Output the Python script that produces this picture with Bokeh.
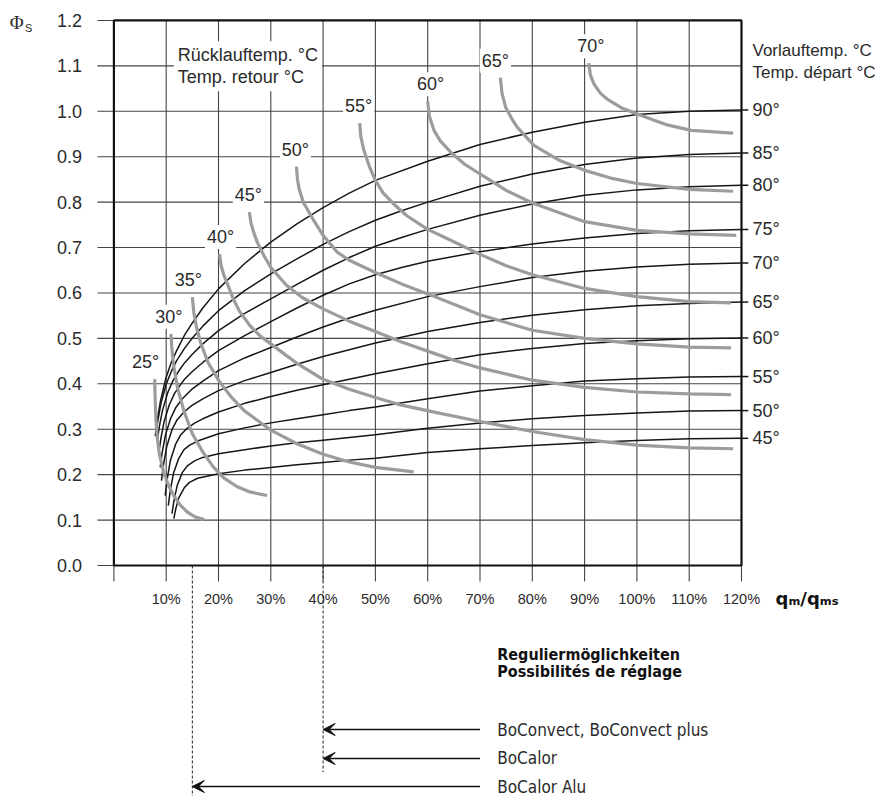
from bokeh.plotting import figure
from bokeh.models import Range1d, ColumnDataSource, Arrow, VeeHead
from bokeh.core.properties import value
from bokeh.embed import file_html
from bokeh.resources import INLINE

# ---------------- data ----------------
x_ticks = [0, 10, 20, 30, 40, 50, 60, 70, 80, 90, 100, 110, 120]
y_ticks = [0.0, 0.1, 0.2, 0.3, 0.4, 0.5, 0.6, 0.7, 0.8, 0.9, 1.0, 1.1, 1.2]
x_tick_labels = ["", "10%", "20%", "30%", "40%", "50%", "60%", "70%", "80%", "90%", "100%", "110%", "120%"]
y_tick_labels = ["0.0", "0.1", "0.2", "0.3", "0.4", "0.5", "0.6", "0.7", "0.8", "0.9", "1.0", "1.1", "1.2"]

# Vorlauftemperatur / Temp. depart (black curves)
vl_labels = ["45°", "50°", "55°", "60°", "65°", "70°", "75°", "80°", "85°", "90°"]
vl45_x = [11.45, 11.85, 12.45, 13.45, 14.45, 16, 20, 25, 30, 35, 40, 45, 50, 60, 70, 80, 90, 100, 110, 120]
vl45_y = [0.103, 0.126, 0.150, 0.171, 0.183, 0.192, 0.202, 0.210, 0.216, 0.222, 0.227, 0.232, 0.236, 0.249, 0.257, 0.264, 0.270, 0.275, 0.279, 0.280]
vl50_x = [11.1, 11.5, 12.1, 13.1, 14.1, 15.5, 17, 20, 25, 30, 35, 40, 45, 50, 60, 70, 80, 90, 100, 110, 120]
vl50_y = [0.114, 0.144, 0.176, 0.205, 0.220, 0.231, 0.238, 0.246, 0.255, 0.263, 0.270, 0.276, 0.282, 0.288, 0.302, 0.314, 0.323, 0.330, 0.336, 0.340, 0.341]
vl55_x = [10.4, 10.8, 11.4, 12.4, 13.4, 14.5, 16, 20, 25, 30, 35, 40, 45, 50, 60, 70, 80, 90, 100, 110, 120]
vl55_y = [0.132, 0.167, 0.203, 0.236, 0.255, 0.265, 0.274, 0.290, 0.303, 0.314, 0.323, 0.332, 0.341, 0.349, 0.367, 0.384, 0.396, 0.406, 0.411, 0.415, 0.416]
vl60_x = [9.8, 10.2, 10.8, 11.8, 12.8, 14, 15.5, 17, 20, 25, 30, 35, 40, 45, 50, 60, 70, 80, 90, 100, 110, 120]
vl60_y = [0.154, 0.191, 0.231, 0.267, 0.288, 0.302, 0.314, 0.323, 0.338, 0.357, 0.372, 0.386, 0.398, 0.410, 0.422, 0.444, 0.464, 0.478, 0.489, 0.495, 0.499, 0.501]
vl65_x = [9.1, 9.5, 10.1, 11.1, 12.1, 13.5, 15, 17, 20, 25, 30, 35, 40, 45, 50, 60, 70, 80, 90, 100, 110, 120]
vl65_y = [0.187, 0.223, 0.262, 0.299, 0.321, 0.339, 0.353, 0.367, 0.385, 0.407, 0.425, 0.443, 0.460, 0.475, 0.490, 0.515, 0.535, 0.551, 0.563, 0.572, 0.577, 0.580]
vl70_x = [8.85, 9.25, 9.85, 10.85, 11.85, 13, 15, 17, 20, 25, 30, 35, 40, 45, 50, 60, 70, 80, 90, 100, 110, 120]
vl70_y = [0.216, 0.250, 0.287, 0.324, 0.348, 0.366, 0.389, 0.406, 0.429, 0.457, 0.480, 0.503, 0.525, 0.545, 0.562, 0.592, 0.614, 0.634, 0.648, 0.657, 0.663, 0.666]
vl75_x = [8.6, 9.0, 9.6, 10.6, 11.6, 12.6, 13.5, 15, 17, 20, 25, 30, 35, 40, 45, 50, 55, 60, 70, 80, 90, 100, 110, 120]
vl75_y = [0.249, 0.281, 0.317, 0.354, 0.379, 0.396, 0.410, 0.427, 0.447, 0.473, 0.506, 0.537, 0.567, 0.595, 0.620, 0.640, 0.656, 0.670, 0.691, 0.708, 0.721, 0.731, 0.737, 0.740]
vl80_x = [8.3, 8.7, 9.3, 10.3, 11.3, 12.5, 13.5, 15, 17, 20, 25, 30, 35, 40, 45, 50, 55, 60, 70, 80, 90, 100, 110, 120]
vl80_y = [0.275, 0.307, 0.342, 0.381, 0.407, 0.430, 0.446, 0.465, 0.488, 0.517, 0.555, 0.587, 0.619, 0.650, 0.678, 0.703, 0.722, 0.740, 0.771, 0.796, 0.815, 0.827, 0.834, 0.837]
vl85_x = [8.0, 8.4, 9.0, 10, 11, 12, 13.5, 15, 17, 20, 25, 30, 35, 40, 45, 50, 55, 60, 70, 80, 90, 100, 110, 120]
vl85_y = [0.286, 0.319, 0.357, 0.399, 0.428, 0.451, 0.478, 0.501, 0.527, 0.561, 0.605, 0.642, 0.675, 0.707, 0.735, 0.760, 0.781, 0.800, 0.835, 0.862, 0.883, 0.897, 0.905, 0.908]
vl90_x = [7.9, 8.3, 8.9, 9.9, 11, 12, 13.5, 15, 17, 20, 25, 30, 35, 40, 45, 50, 60, 70, 80, 90, 100, 110, 120]
vl90_y = [0.285, 0.321, 0.362, 0.411, 0.448, 0.473, 0.507, 0.534, 0.567, 0.609, 0.665, 0.712, 0.752, 0.788, 0.820, 0.848, 0.890, 0.927, 0.954, 0.976, 0.993, 1.000, 1.003]

# Ruecklauftemperatur / Temp. retour (grey curves)
rl_labels = ["25°", "30°", "35°", "40°", "45°", "50°", "55°", "60°", "65°", "70°"]
rl25_x = [7.8, 7.9, 8.05, 8.3, 8.7, 9.5, 10.5, 11.5, 12.7, 14, 15.5, 17.3]
rl25_y = [0.41, 0.36, 0.32, 0.28, 0.245, 0.205, 0.175, 0.153, 0.133, 0.118, 0.107, 0.101]
rl30_x = [10.9, 11.1, 11.5, 12.2, 13.4, 15, 17, 19, 21, 23.5, 26, 29.3]
rl30_y = [0.51, 0.475, 0.435, 0.39, 0.34, 0.29, 0.25, 0.217, 0.193, 0.174, 0.162, 0.154]
rl35_x = [15.0, 15.3, 15.8, 16.6, 18, 20, 22.5, 25, 30, 35, 40, 45, 50, 57.3]
rl35_y = [0.591, 0.555, 0.525, 0.49, 0.447, 0.408, 0.37, 0.34, 0.298, 0.268, 0.245, 0.228, 0.216, 0.206]
rl40_x = [20.2, 20.5, 21, 21.7, 22.9, 24, 26, 28, 30, 35, 40, 45, 50, 55, 62.4, 70, 80, 90, 100, 110, 118.4]
rl40_y = [0.686, 0.66, 0.64, 0.62, 0.585, 0.56, 0.528, 0.505, 0.488, 0.445, 0.41, 0.388, 0.37, 0.353, 0.335, 0.317, 0.295, 0.277, 0.265, 0.259, 0.257]
rl45_x = [25.9, 26.2, 26.6, 27.4, 28.7, 30, 33, 36, 40, 45, 50, 55, 60, 65, 70, 80, 90, 100, 110, 118]
rl45_y = [0.778, 0.755, 0.738, 0.712, 0.682, 0.656, 0.617, 0.59, 0.565, 0.538, 0.515, 0.492, 0.472, 0.452, 0.435, 0.408, 0.392, 0.382, 0.378, 0.376]
rl50_x = [34.9, 35.1, 35.4, 36.2, 37.2, 38.2, 40, 42.7, 45, 50, 55, 60, 65, 70, 80, 90, 100, 110, 118]
rl50_y = [0.878, 0.85, 0.83, 0.80, 0.78, 0.76, 0.727, 0.69, 0.672, 0.645, 0.62, 0.598, 0.575, 0.552, 0.518, 0.500, 0.488, 0.481, 0.479]
rl55_x = [47.0, 47.2, 47.8, 48.8, 50, 51.5, 53.5, 56, 60, 64.4, 70, 75, 80, 90, 100, 110, 118]
rl55_y = [0.974, 0.945, 0.914, 0.88, 0.848, 0.82, 0.796, 0.77, 0.74, 0.716, 0.685, 0.66, 0.64, 0.61, 0.592, 0.581, 0.578]
rl60_x = [60.0, 60.3, 61.2, 62.4, 64.4, 67, 70, 75, 80, 90, 100, 110, 119]
rl60_y = [1.022, 0.99, 0.958, 0.935, 0.91, 0.884, 0.862, 0.826, 0.798, 0.757, 0.738, 0.730, 0.727]
rl65_x = [73.9, 74.2, 74.9, 76, 77.1, 80.3, 85, 90, 95, 100, 110, 118.4]
rl65_y = [1.074, 1.04, 1.009, 0.985, 0.965, 0.925, 0.893, 0.87, 0.853, 0.841, 0.828, 0.824]
rl70_x = [90.8, 91.1, 91.8, 93, 94.3, 97, 100.3, 105.8, 110.4, 118.4]
rl70_y = [1.106, 1.08, 1.06, 1.04, 1.027, 1.008, 0.993, 0.97, 0.958, 0.952]

# Reguliermoeglichkeiten
settings_names = ["BoConvect, BoConvect plus", "BoCalor", "BoCalor Alu"]
settings_min = [40, 40, 15]

# ---------------- layout ----------------
W, H = 880, 796
PX_X, PX_Y = 5.23, 454.2          # pixels per data unit
X0_PX, Y0_PX = 113.4, 565.0       # canvas pixel of data origin
x_range = Range1d(-X0_PX / PX_X, (W - X0_PX) / PX_X)
y_range = Range1d((Y0_PX - H) / PX_Y, Y0_PX / PX_Y)

FONT = value("Liberation Sans")
COND = value("DejaVu Sans Condensed")
TXT = "#2a2a2a"
GRID = "#454545"

p = figure(width=W, height=H, x_range=x_range, y_range=y_range,
           x_axis_type=None, y_axis_type=None, toolbar_location=None,
           output_backend="svg", title=None, min_border=0)
p.outline_line_color = None
p.background_fill_color = "white"
p.border_fill_color = "white"

xmax, ymax = x_ticks[-1], y_ticks[-1]
# grid lines incl. outside tick marks
inner_x = x_ticks[1:-1]
p.segment(x0=inner_x, y0=[-0.035] * len(inner_x), x1=inner_x, y1=[ymax] * len(inner_x),
          line_color=GRID, line_width=1.1)
p.segment(x0=[x_ticks[0], xmax], y0=[-0.035, -0.035], x1=[x_ticks[0], xmax], y1=[0, 0],
          line_color=GRID, line_width=1.1)
p.segment(x0=[-3.15] * len(y_ticks), y0=y_ticks, x1=[xmax] * len(y_ticks), y1=y_ticks,
          line_color=GRID, line_width=1.1)
# frame
p.quad(left=[x_ticks[0]], right=[xmax], bottom=[y_ticks[0]], top=[ymax],
       fill_color=None, line_color="#111111", line_width=2.2)

# tick labels
p.text(x=[-6.1] * len(y_ticks), y=y_ticks, text=y_tick_labels, text_font=FONT,
       text_font_size="18px", text_align="right", text_baseline="middle", text_color=TXT)
p.text(x=x_ticks, y=[-0.0735] * len(x_ticks), text=x_tick_labels, text_font=FONT,
       text_font_size="14.5px", text_align="center", text_baseline="middle", text_color=TXT)

# black supply-temperature curves
vl_xs = [vl45_x, vl50_x, vl55_x, vl60_x, vl65_x, vl70_x, vl75_x, vl80_x, vl85_x, vl90_x]
vl_ys = [vl45_y, vl50_y, vl55_y, vl60_y, vl65_y, vl70_y, vl75_y, vl80_y, vl85_y, vl90_y]
p.multi_line(xs=vl_xs, ys=vl_ys, line_color="#161616", line_width=1.5)
vl_end = [ys[-1] for ys in vl_ys]
p.segment(x0=[xmax] * len(vl_end), y0=vl_end, x1=[xmax + 1.3] * len(vl_end), y1=vl_end,
          line_color="#161616", line_width=1.5)
p.text(x=[xmax + 2.1] * len(vl_end), y=vl_end, text=vl_labels, text_font=FONT,
       text_font_size="18px", text_align="left", text_baseline="middle", text_color=TXT)

# grey return-temperature curves
rl_xs = [rl25_x, rl30_x, rl35_x, rl40_x, rl45_x, rl50_x, rl55_x, rl60_x, rl65_x, rl70_x]
rl_ys = [rl25_y, rl30_y, rl35_y, rl40_y, rl45_y, rl50_y, rl55_y, rl60_y, rl65_y, rl70_y]
p.multi_line(xs=rl_xs, ys=rl_ys, line_color="#9c9c9c", line_width=3.2)
rl_start_x = [xs[0] for xs in rl_xs]
rl_start_y = [ys[0] for ys in rl_ys]
p.text(x=rl_start_x, y=rl_start_y, text=rl_labels, text_font=FONT, text_font_size="18px",
       text_align="center", text_baseline="middle", text_color=TXT,
       x_offset=[-9, -2, -4, 1, -1, -1, -1, 3, -5, 2], y_offset=-17,
       background_fill_color="white", padding=2)

# block titles
p.text(x=[11.45], y=[1.1545], text=["Rücklauftemp. °C\nTemp. retour °C"], text_font=FONT,
       text_font_size="18px", text_align="left", text_baseline="top", text_color=TXT,
       text_line_height=1.1, background_fill_color="white", padding=4)
p.text(x=[xmax + 2.1], y=[1.1545], text=["Vorlauftemp. °C\nTemp. départ °C"], text_font=FONT,
       text_font_size="17px", text_align="left", text_baseline="top", text_color=TXT,
       text_line_height=1.15)

# axis titles
p.text(x=[-18.6], y=[1.196], text=["Φ"], text_font=value("Liberation Serif"),
       text_font_size="19px", text_align="center", text_baseline="middle", text_color=TXT)
p.text(x=[-16.3], y=[1.184], text=["S"], text_font=FONT,
       text_font_size="11px", text_align="center", text_baseline="middle", text_color=TXT)
p.text(x=[126.5], y=[-0.0727], text=["qₘ/qₘₛ"], text_font=value("DejaVu Sans"),
       text_font_size="18px", text_font_style="bold", text_align="left",
       text_baseline="middle", text_color="#111111")

# Reguliermoeglichkeiten
p.text(x=[73.3, 73.3], y=[-0.196, -0.2334],
       text=["Reguliermöglichkeiten", "Possibilités de réglage"], text_font=COND,
       text_font_size="16px", text_font_style="bold", text_align="left",
       text_baseline="middle", text_color="#111111")
row_y = [-0.3611, -0.4249, -0.4866]
src = ColumnDataSource(dict(x0=[70.0] * 3, x1=settings_min, y=row_y))
p.add_layout(Arrow(end=VeeHead(size=12, fill_color="#111111", line_color="#111111"),
                   x_start="x0", y_start="y", x_end="x1", y_end="y", source=src,
                   line_color="#111111", line_width=1.5))
p.text(x=[73.3] * 3, y=row_y, text=settings_names, text_font=COND,
       text_font_size="17px", text_align="left", text_baseline="middle", text_color=TXT)
mins = sorted(set(settings_min))
dash_bottom = [min(y for y, m in zip(row_y, settings_min) if m == v) - 0.03 for v in mins]
p.segment(x0=mins, y0=[0] * len(mins), x1=mins, y1=dash_bottom,
          line_color="#222222", line_width=1, line_dash="3 2")

open("out.html", "w").write(file_html(p, INLINE))
